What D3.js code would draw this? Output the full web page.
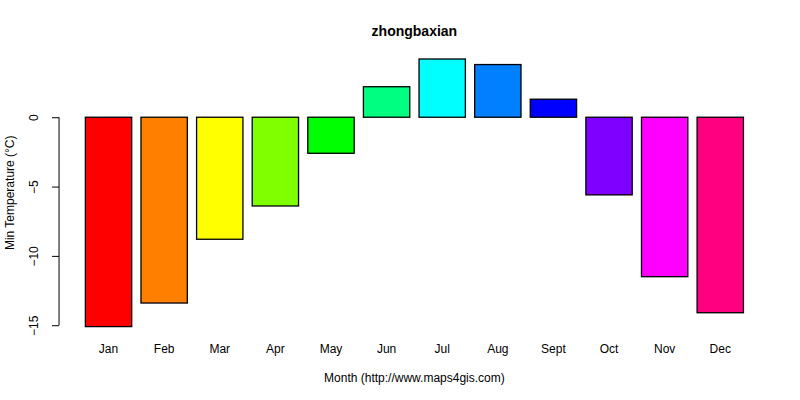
<!DOCTYPE html>
<html><head><meta charset="utf-8">
<script src="https://cdn.jsdelivr.net/npm/d3@7"></script>
<style>body{margin:0;background:#fff}svg{display:block}text{font-family:"Liberation Sans",Arial,sans-serif}</style>
</head><body>
<svg id="c" width="800" height="400"></svg>
<script>
const months = ["Jan","Feb","Mar","Apr","May","Jun","Jul","Aug","Sept","Oct","Nov","Dec"];
const minTemp = [-15.1,-13.4,-8.8,-6.4,-2.6,2.2,4.2,3.8,1.3,-5.6,-11.5,-14.1];
const colors = ["#FF0000","#FF8000","#FFFF00","#80FF00","#00FF00","#00FF80","#00FFFF","#0080FF","#0000FF","#8000FF","#FF00FF","#FF0080"];
const yTicks = [-15,-10,-5,0];
const title = "zhongbaxian";
const xTitle = "Month (http://www.maps4gis.com)";
const yTitle = "Min Temperature (°C)";

const svg = d3.select("#c");
const L = 59.04, R = 769.76, T = 59, B = 326.6;
const n = months.length;
const lo = 0.2, hi = 1.2 * n, pad = (hi - lo) * 0.04;
const x = d3.scaleLinear().domain([lo - pad, hi + pad]).range([L, R]);
const y = d3.scaleLinear().domain([d3.min(minTemp), d3.max(minTemp)]).range([B, T]);

svg.selectAll("rect.bar").data(minTemp).join("rect")
  .attr("class","bar")
  .attr("x", (d,i) => x(0.2 + 1.2*i))
  .attr("width", (d,i) => x(1.2*(i+1)) - x(0.2 + 1.2*i))
  .attr("y", d => y(Math.max(0,d)))
  .attr("height", d => Math.abs(y(d) - y(0)))
  .attr("fill", (d,i) => colors[i])
  .attr("stroke", "#000").attr("stroke-width", 1.3);

svg.selectAll("text.mon").data(months).join("text")
  .attr("class","mon")
  .attr("x", (d,i) => x(0.2 + 1.2*i + 0.5))
  .attr("y", 353)
  .attr("text-anchor","middle").attr("font-size", 12).text(d => d);

const yAxis = d3.axisLeft(y).tickValues(yTicks).tickSize(7).tickPadding(6).tickFormat(d3.format("d"));
const g = svg.append("g").attr("transform", `translate(${L},0)`).call(yAxis);
g.select(".domain").attr("d", `M0,${y(-15)}V${y(0)}`).attr("stroke","#000");
g.selectAll(".tick line").attr("stroke","#000");
g.selectAll(".tick text")
  .attr("font-size", 12).attr("fill","#000")
  .attr("font-family", '"Liberation Sans",Arial,sans-serif')
  .attr("text-anchor","middle").attr("dy", null)
  .attr("transform", d => `translate(-21,0) rotate(-90)`)
  .attr("x", 0).attr("y", 0);

svg.append("text").attr("x", (L+R)/2).attr("y", 36).attr("text-anchor","middle")
  .attr("font-weight","bold").attr("font-size", 14).text(title);
svg.append("text").attr("x", (L+R)/2).attr("y", 382).attr("text-anchor","middle")
  .attr("font-size", 12).text(xTitle);
svg.append("text").attr("transform", `translate(14,${(T+B)/2}) rotate(-90)`)
  .attr("text-anchor","middle").attr("font-size", 12).text(yTitle);
</script>
</body></html>
